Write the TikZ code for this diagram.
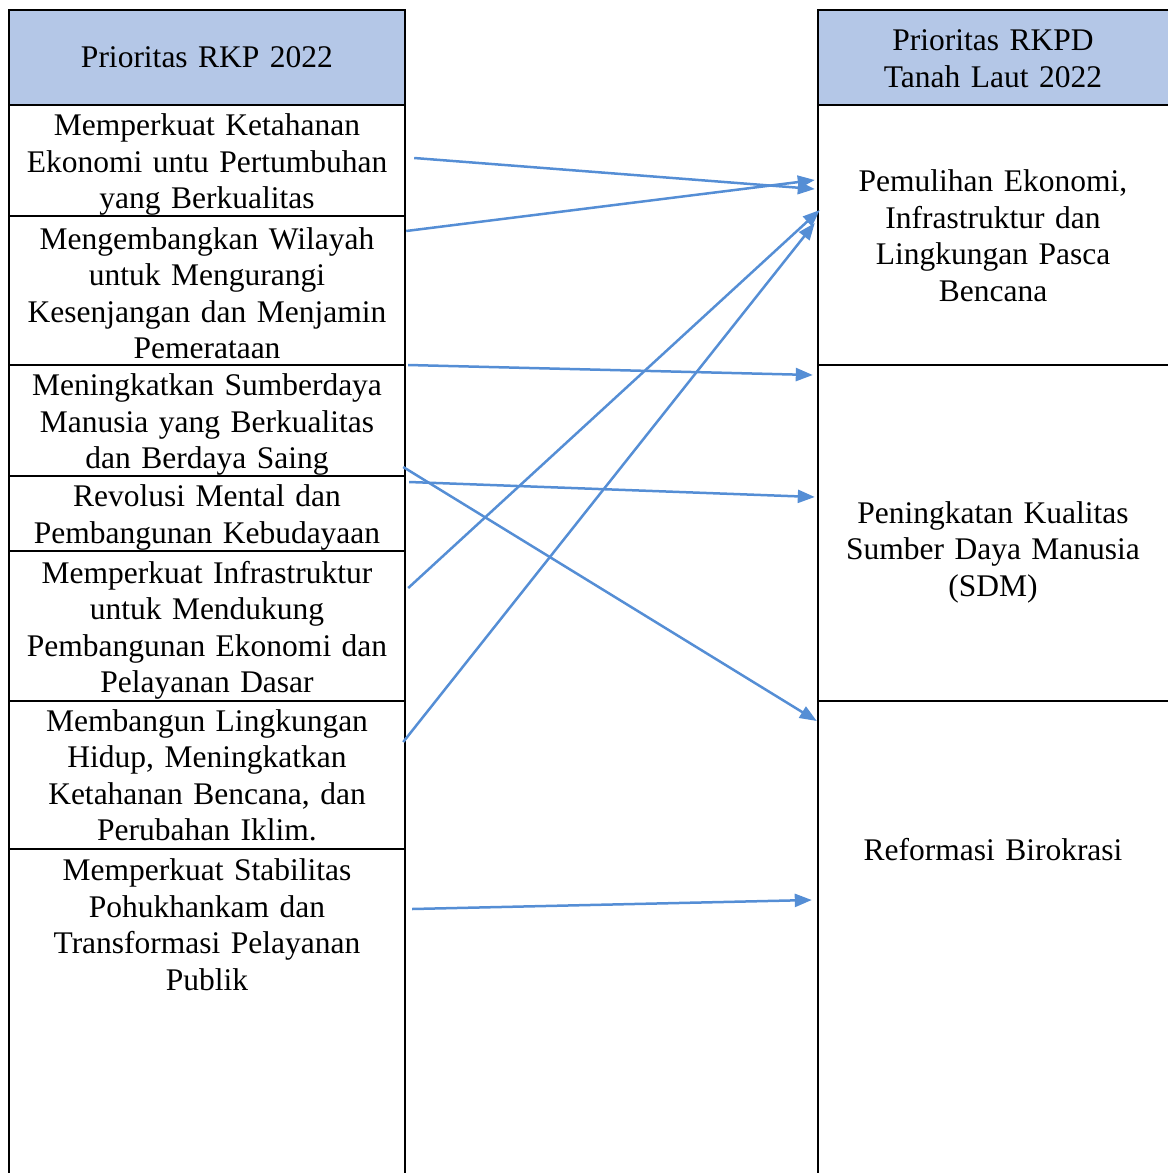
\documentclass[tikz,border=0pt]{standalone}
\usepackage{fontspec}
\setmainfont{Liberation Serif}
\usetikzlibrary{arrows.meta}
\definecolor{headblue}{HTML}{B4C7E7}
\definecolor{linkblue}{RGB}{85,142,213}
\begin{document}
\begin{tikzpicture}[x=1pt,y=-1pt]
            \tikzstyle{every node}=[font=\fontsize{31.5}{36.5}\selectfont, align=center, inner sep=0pt]
            \tikzstyle{leftcell}=[text width=396pt]
            \tikzstyle{rightcell}=[text width=350pt]
            \tikzstyle{link}=[draw=linkblue, line width=2.5pt, -{Triangle[length=17pt,width=13pt]}]

            \useasboundingbox (0,0) rectangle (1168,1173);

            \fill[headblue] (9,10) rectangle (405,105);
            \fill[headblue] (818,10) rectangle (1168,105);

            \draw[line width=2pt] (9,1173) -- (9,10) -- (405,10) -- (405,1173);
            \foreach \y in {105,216,365,476,551,701,849}
                \draw[line width=2pt] (9,\y) -- (405,\y);

            \draw[line width=2pt] (1168,10) -- (818,10) -- (818,1173);
            \foreach \y in {105,365,701}
                \draw[line width=2pt] (818,\y) -- (1168,\y);

            \node[leftcell] (lh) at (207,57) {Prioritas RKP 2022};
            \node[rightcell] (rh) at (993,58.5) {Prioritas RKPD\\Tanah Laut 2022};

            \node[leftcell] (l1) at (207,164.5) {Memperkuat Ketahanan\\Ekonomi untu Pertumbuhan\\yang Berkualitas};
            \node[leftcell] (l2) at (207,293) {Mengembangkan Wilayah\\untuk Mengurangi\\Kesenjangan dan Menjamin\\Pemerataan};
            \node[leftcell] (l3) at (207,424.5) {Meningkatkan Sumberdaya\\Manusia yang Berkualitas\\dan Berdaya Saing};
            \node[leftcell] (l4) at (207,517.5) {Revolusi Mental dan\\Pembangunan Kebudayaan};
            \node[leftcell] (l5) at (207,630.5) {Memperkuat Infrastruktur\\untuk Mendukung\\Pembangunan Ekonomi dan\\Pelayanan Dasar};
            \node[leftcell] (l6) at (207,775.5) {Membangun Lingkungan\\Hidup, Meningkatkan\\Ketahanan Bencana, dan\\Perubahan Iklim.};
            \node[leftcell] (l7) at (207,924.5) {Memperkuat Stabilitas\\Pohukhankam dan\\Transformasi Pelayanan\\Publik};

            \node[rightcell] (r1) at (993,235.5) {Pemulihan Ekonomi,\\Infrastruktur dan\\Lingkungan Pasca\\Bencana};
            \node[rightcell] (r2) at (993,552) {Peningkatan Kualitas\\Sumber Daya Manusia\\(SDM)};
            \node[rightcell] (r3) at (993,850) {Reformasi Birokrasi};

            \draw[link] ([xshift=9pt,yshift=6.5pt]l1.east) -- ([xshift=-3pt,yshift=46.5pt]r1.west);
            \draw[link] ([xshift=1pt,yshift=62pt]l2.east) -- ([xshift=-3pt,yshift=55.5pt]r1.west);
            \draw[link] ([xshift=3pt,yshift=42.5pt]l5.east) -- ([xshift=2pt,yshift=25.5pt]r1.west);
            \draw[link] ([xshift=-2pt,yshift=33.5pt]l6.east) -- ([xshift=-3pt,yshift=12.5pt]r1.west);
            \draw[link] ([xshift=3pt,yshift=59.5pt]l3.east) -- ([xshift=-5pt,yshift=177pt]r2.west);
            \draw[link] ([xshift=4pt,yshift=35.5pt]l4.east) -- ([xshift=-3pt,yshift=55pt]r2.west);
            \draw[link] ([xshift=-2pt,yshift=-42.5pt]l3.east) -- ([xshift=-1pt,yshift=129pt]r3.west);
            \draw[link] ([xshift=7pt,yshift=15.5pt]l7.east) -- ([xshift=-6pt,yshift=-50pt]r3.west);

          \end{tikzpicture}
\end{document}
